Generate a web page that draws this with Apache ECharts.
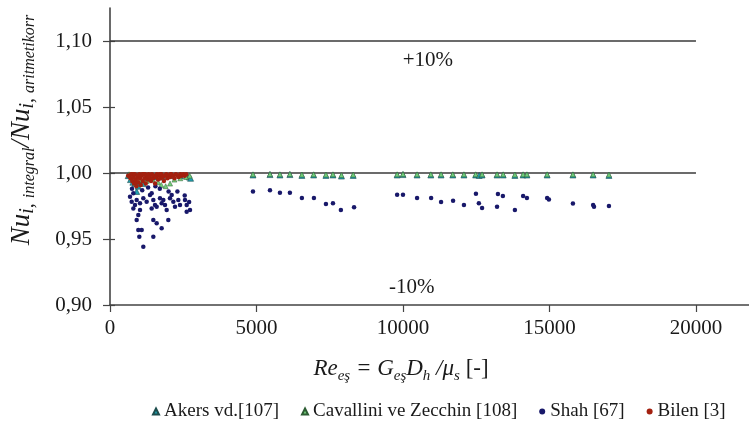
<!DOCTYPE html>
<html>
<head>
<meta charset="utf-8">
<script src="https://cdn.jsdelivr.net/npm/echarts@6/dist/echarts.min.js"></script>
<style>
  html, body { margin: 0; padding: 0; background: #fff; }
  #chart { width: 749px; height: 423px; }
</style>
</head>
<body>
<div id="chart"></div>
<script>
// Axis ticks
const xTicks = [0, 5000, 10000, 15000, 20000];
const yTicks = [0.90, 0.95, 1.00, 1.05, 1.10];

// Reference levels drawn as horizontal lines (+10 % and 0 % deviation)
const levelValues = [1.10, 1.00];
const levelSpan = [0, 20000];

// Akers vd.[107]
const akersPoints = [
  [620, 0.998], [700, 0.995], [780, 0.993], [850, 0.992], [910, 0.986], [960, 0.990],
  [1050, 0.993], [1130, 0.992], [1300, 0.996], [1500, 0.997], [1800, 0.997], [2100, 0.998],
  [2400, 0.998], [2620, 0.998], [2700, 0.997], [2750, 0.996],
  [4880, 0.9985], [5460, 0.9988], [5800, 0.9985], [6140, 0.9988], [6550, 0.9982], [6950, 0.9985],
  [7370, 0.9982], [7610, 0.9985], [7900, 0.9977], [8300, 0.9982], [9800, 0.9985], [10000, 0.9988],
  [10480, 0.9985], [10950, 0.9985], [11300, 0.9985], [11700, 0.9985], [12080, 0.9985], [12480, 0.9985],
  [12600, 0.9982], [12700, 0.9985], [13210, 0.9985], [13420, 0.9985], [13820, 0.9982], [14100, 0.9985],
  [14230, 0.9985], [14920, 0.9985], [15800, 0.9985], [16490, 0.9985], [17030, 0.9982]
];

// Cavallini ve Zecchin [108]
const cavalliniPoints = [
  [650, 0.999], [800, 0.996], [1000, 0.995], [1250, 0.994], [1450, 0.995], [1640, 0.993],
  [1750, 0.991], [1900, 0.990], [2050, 0.992], [2200, 0.995], [2400, 0.996], [2600, 0.997], [2720, 0.998],
  [4880, 0.9990], [5460, 0.9992], [5800, 0.9990], [6140, 0.9992], [6550, 0.9988], [6950, 0.9990],
  [7370, 0.9988], [7610, 0.9990], [7900, 0.9984], [8300, 0.9988], [9800, 0.9990], [10000, 0.9992],
  [10480, 0.9990], [10950, 0.9990], [11300, 0.9990], [11700, 0.9990], [12080, 0.9990], [12480, 0.9990],
  [12700, 0.9990], [13210, 0.9990], [13420, 0.9990], [13820, 0.9988], [14100, 0.9990], [14230, 0.9990],
  [14920, 0.9990], [15800, 0.9990], [16490, 0.9990], [17030, 0.9988]
];

// Shah [67]
const shahPoints = [
  [683, 0.982], [750, 0.988], [796, 0.9846], [740, 0.9783], [910, 0.9795], [853, 0.9758],
  [1024, 0.977], [796, 0.9732], [1024, 0.972], [967, 0.9682], [910, 0.9644], [1137, 0.9808],
  [1100, 0.987], [1251, 0.9783], [1365, 0.9833], [1422, 0.9846], [1479, 0.9795], [1536, 0.9758],
  [1422, 0.9732], [1593, 0.9745], [1707, 0.9808], [1700, 0.988], [1763, 0.977], [1820, 0.9795],
  [1877, 0.9758], [1934, 0.972], [2000, 0.986], [2048, 0.9808], [2105, 0.9833], [2162, 0.9783],
  [2218, 0.9745], [2300, 0.986], [2332, 0.9795], [2389, 0.9758], [2550, 0.983], [2560, 0.9795],
  [2617, 0.9758], [2617, 0.9707], [2700, 0.978], [2730, 0.972], [1479, 0.9644], [1593, 0.9619],
  [1763, 0.9581], [1991, 0.9644], [967, 0.9568], [1081, 0.9568], [1001, 0.9517], [1479, 0.9517],
  [1137, 0.9442], [1300, 0.989], [1550, 0.990],
  [4880, 0.986], [5460, 0.987], [5800, 0.985], [6140, 0.985], [6550, 0.981], [6960, 0.981],
  [7370, 0.9765], [7610, 0.977], [7880, 0.972], [8330, 0.974], [9800, 0.9835], [10000, 0.9835],
  [10480, 0.981], [10960, 0.981], [11300, 0.978], [11710, 0.979], [12080, 0.9758], [12490, 0.9843],
  [12590, 0.977], [12700, 0.9735], [13210, 0.9745], [13240, 0.984], [13410, 0.9826], [13820, 0.972],
  [14100, 0.9825], [14230, 0.981], [14920, 0.981], [14980, 0.980], [15800, 0.9768], [16490, 0.9758],
  [16520, 0.9745], [17030, 0.975]
];

// Bilen [3]
const bilenPoints = [
  [620, 0.998], [650, 0.998], [700, 0.996], [720, 0.999], [760, 0.994], [780, 0.999], [800, 0.997], [820, 0.992],
  [850, 0.999], [870, 0.993], [880, 0.995], [900, 0.990], [930, 0.997], [950, 0.998], [960, 0.993],
  [1000, 0.999], [1020, 0.996], [1050, 0.991], [1080, 0.998], [1100, 0.999], [1120, 0.994],
  [1150, 0.999], [1180, 0.996], [1200, 0.999], [1220, 0.992], [1250, 0.998], [1290, 0.995],
  [1300, 0.997], [1320, 0.999], [1360, 0.997], [1400, 0.994], [1430, 0.999], [1470, 0.996],
  [1500, 0.998], [1540, 0.992], [1570, 0.997], [1600, 0.999], [1640, 0.995], [1680, 0.998],
  [1700, 0.999], [1720, 0.996], [1760, 0.999], [1800, 0.997], [1840, 0.994], [1880, 0.998],
  [1920, 0.999], [1960, 0.996], [2000, 0.998], [2050, 0.997], [2060, 0.999], [2100, 0.999],
  [2150, 0.998], [2200, 0.996], [2250, 0.999], [2300, 0.998], [2350, 0.997], [2400, 0.999],
  [2450, 0.998], [2500, 0.999], [2550, 0.998], [2600, 0.999]
];

const serif = '"Liberation Serif", "Times New Roman", serif';
const axisColor = '#444';
const textColor = '#1a1a1a';

const chart = echarts.init(document.getElementById('chart'), null, { renderer: 'canvas' });

const levelSeries = levelValues.map(function (v, i) {
  return {
    name: 'level' + i,
    type: 'line',
    data: levelSpan.map(function (x) { return [x, v]; }),
    symbol: 'none',
    silent: true,
    z: 1,
    lineStyle: { color: '#3a3a3a', width: 1.6 }
  };
});

// Deviation band captions
levelSeries[0].markPoint = {
  symbol: 'circle', symbolSize: 0, silent: true,
  label: {
    show: true, position: 'inside', fontFamily: serif, fontSize: 21, color: textColor,
    formatter: function (p) { return p.name; }
  },
  data: [
    { name: '+10%', coord: [10850, 1.0856] },
    { name: '-10%', coord: [10300, 0.9129] }
  ]
};

function scatter(name, data, symbol, size, color, z, border) {
  return {
    name: name, type: 'scatter', data: data, symbol: symbol, symbolSize: size,
    itemStyle: Object.assign({ color: color, opacity: 1 }, border || {}), z: z, silent: true
  };
}

const option = {
  animation: false,
  backgroundColor: '#ffffff',
  grid: { left: 110, right: 0, top: 8, bottom: 118, containLabel: false },
  xAxis: {
    type: 'value', min: 0, max: 21810,
    axisLine: { show: true, lineStyle: { color: axisColor, width: 1.6 } },
    axisTick: { show: true, length: 7, inside: false, customValues: xTicks, lineStyle: { color: axisColor, width: 1.2 } },
    axisLabel: {
      customValues: xTicks, fontFamily: serif, fontSize: 21, color: textColor, margin: 13,
      formatter: function (v) { return String(v); }
    },
    splitLine: { show: false }
  },
  yAxis: [{
    type: 'value', min: 0.9, max: 1.125,
    axisLine: { show: true, lineStyle: { color: axisColor, width: 1.6 } },
    axisTick: { show: true, length: 7, customValues: yTicks, lineStyle: { color: axisColor, width: 1.2 } },
    axisLabel: {
      customValues: yTicks, fontFamily: serif, fontSize: 21, color: textColor, margin: 18,
      formatter: function (v) { return v.toFixed(2).replace('.', ','); }
    },
    splitLine: { show: false }
  }, {
    type: 'value', min: 0.9, max: 1.125, position: 'left',
    axisLine: { show: false },
    axisTick: { show: true, inside: true, length: 5, customValues: yTicks, lineStyle: { color: axisColor, width: 1.2 } },
    axisLabel: { show: false },
    splitLine: { show: false }
  }],
  legend: {
    left: 147, top: 397, itemGap: 22, itemWidth: 6, itemHeight: 6,
    textStyle: { fontFamily: serif, fontSize: 19, color: textColor },
    data: [
      { name: 'Akers vd.[107]', icon: 'triangle' },
      { name: 'Cavallini ve Zecchin [108]', icon: 'triangle' },
      { name: 'Shah [67]', icon: 'circle' },
      { name: 'Bilen [3]', icon: 'circle' }
    ]
  },
  graphic: [{
    type: 'text', x: 401, y: 369,
    style: {
      text: '{i|Re}{s|eş}{i| = G}{s|eş}{i|D}{s|h}{i| /μ}{s|s}{n| [-]}',
      align: 'center', verticalAlign: 'middle', fill: textColor,
      rich: {
        i: { fontFamily: serif, fontStyle: 'italic', fontSize: 23, lineHeight: 30, verticalAlign: 'middle' },
        n: { fontFamily: serif, fontSize: 23, lineHeight: 30, verticalAlign: 'middle' },
        s: { fontFamily: serif, fontStyle: 'italic', fontSize: 15, lineHeight: 14, verticalAlign: 'bottom' }
      }
    }
  }, {
    type: 'text', x: 22, y: 130, rotation: Math.PI / 2,
    style: {
      text: '{m|Nu}{a|i, }{b|integral}{m|/Nu}{a|i, }{b|aritmetikorr}',
      align: 'center', verticalAlign: 'middle', fill: textColor,
      rich: {
        m: { fontFamily: serif, fontStyle: 'italic', fontSize: 27, lineHeight: 32, verticalAlign: 'middle' },
        a: { fontFamily: serif, fontStyle: 'italic', fontSize: 20, lineHeight: 18, verticalAlign: 'bottom' },
        b: { fontFamily: serif, fontStyle: 'italic', fontSize: 16, lineHeight: 15, verticalAlign: 'bottom' }
      }
    }
  }],
  series: levelSeries.concat([
    scatter('Akers vd.[107]', akersPoints, 'triangle', 6, '#1f9fae', 3, { borderColor: '#1d4d4d', borderWidth: 0.6 }),
    scatter('Cavallini ve Zecchin [108]', cavalliniPoints, 'triangle', 5, '#74cf7a', 4, { borderColor: '#2d5d33', borderWidth: 0.5 }),
    scatter('Shah [67]', shahPoints, 'circle', 4.5, '#18186a', 5),
    scatter('Bilen [3]', bilenPoints, 'circle', 4.5, '#a3200f', 6)
  ])
};

chart.setOption(option);
</script>
</body>
</html>
